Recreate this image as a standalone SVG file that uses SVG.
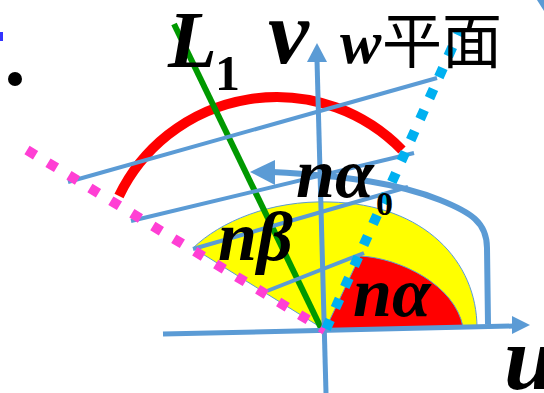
<svg xmlns="http://www.w3.org/2000/svg" width="544" height="393" viewBox="0 0 544 393">
<style>
.lbl{font-family:"Liberation Serif","Times New Roman",serif;font-weight:bold;font-style:italic;fill:#000}
.up{font-family:"Liberation Serif","Times New Roman",serif;font-weight:bold;font-style:normal;fill:#000}
.cjk{font-family:"Liberation Serif","Noto Sans CJK SC",sans-serif;fill:#000}
.wl{stroke:#5B9BD5;stroke-width:4;fill:none;stroke-linecap:butt}
.ax{stroke:#5B9BD5;stroke-width:5;fill:none}
.edge{stroke:#5B9BD5;stroke-width:1}
</style>
<rect width="544" height="393" fill="#fff"/>
<g id="sectors">
<path id="yellow" class="edge" fill="#FFFF00" d="M325 330 L477 328 C477 262 425 204 330 202 C270 200 220 222 193 248 Z"/>
<path id="redsector" class="edge" fill="#FF0000" d="M325 330 L360 256 C400 258 455 285 463 327 Z"/>
</g>
<g id="redarc">
<path d="M119 196 A175 175 0 0 1 402 150" fill="none" stroke="#FF0000" stroke-width="10"/>
</g>
<g id="L1line">
<line x1="174" y1="24" x2="321" y2="328" stroke="#009900" stroke-width="6"/>
</g>
<g id="connectors">
<line class="wl" x1="68" y1="182" x2="437" y2="78"/>
<line class="wl" x1="131" y1="221" x2="414" y2="153"/>
<line class="wl" x1="193" y1="249" x2="408" y2="187"/>
<line class="wl" x1="267" y1="291" x2="364" y2="253"/>
<line class="ax" x1="163" y1="334" x2="514" y2="326"/>
<polygon points="530,325 512,316 512,334" fill="#5B9BD5"/>
<line class="ax" x1="326" y1="393" x2="317" y2="60"/>
<polygon points="317,43 307,62 327,62" fill="#5B9BD5"/>
<path d="M488 324 L487 248 C487 222 470 212 440 200 C400 184 350 176 272 172" fill="none" stroke="#5B9BD5" stroke-width="6"/>
<polygon points="250,172 275,160 275,185" fill="#5B9BD5"/>
<line x1="27" y1="150" x2="325" y2="330" stroke="#FF3FD4" stroke-width="10" stroke-dasharray="10 14.5"/>
<line x1="326" y1="329" x2="460" y2="30" stroke="#00B0F0" stroke-width="10" stroke-dasharray="10 13"/>
</g>
<g id="misc">
<circle cx="15" cy="79" r="7" fill="#000"/>
<rect x="0" y="32" width="3" height="9" fill="#3333FF"/>
<polygon points="537,0 544,0 544,11" fill="#5B9BD5"/>
</g>
<g id="label-L1">
<text class="lbl" x="168" y="67" font-size="80">L</text>
<text class="up" x="215" y="90" font-size="50">1</text>
</g>
<g id="label-v"><text class="lbl" x="268" y="63" font-size="92">v</text></g>
<g id="label-w">
<text class="lbl" x="340" y="63" font-size="62">w</text>
<text class="cjk" x="382" y="63" font-size="60">平面</text>
</g>
<g id="label-na0">
<text class="lbl" x="296" y="197" font-size="70">nα</text>
<text class="up" x="376" y="215" font-size="34">0</text>
</g>
<g id="label-nb"><text class="lbl" x="218" y="260" font-size="70">nβ</text></g>
<g id="label-na"><text class="lbl" x="353" y="316" font-size="70">nα</text></g>
<g id="label-u"><text class="lbl" x="504" y="389" font-size="92">u</text></g>
</svg>
